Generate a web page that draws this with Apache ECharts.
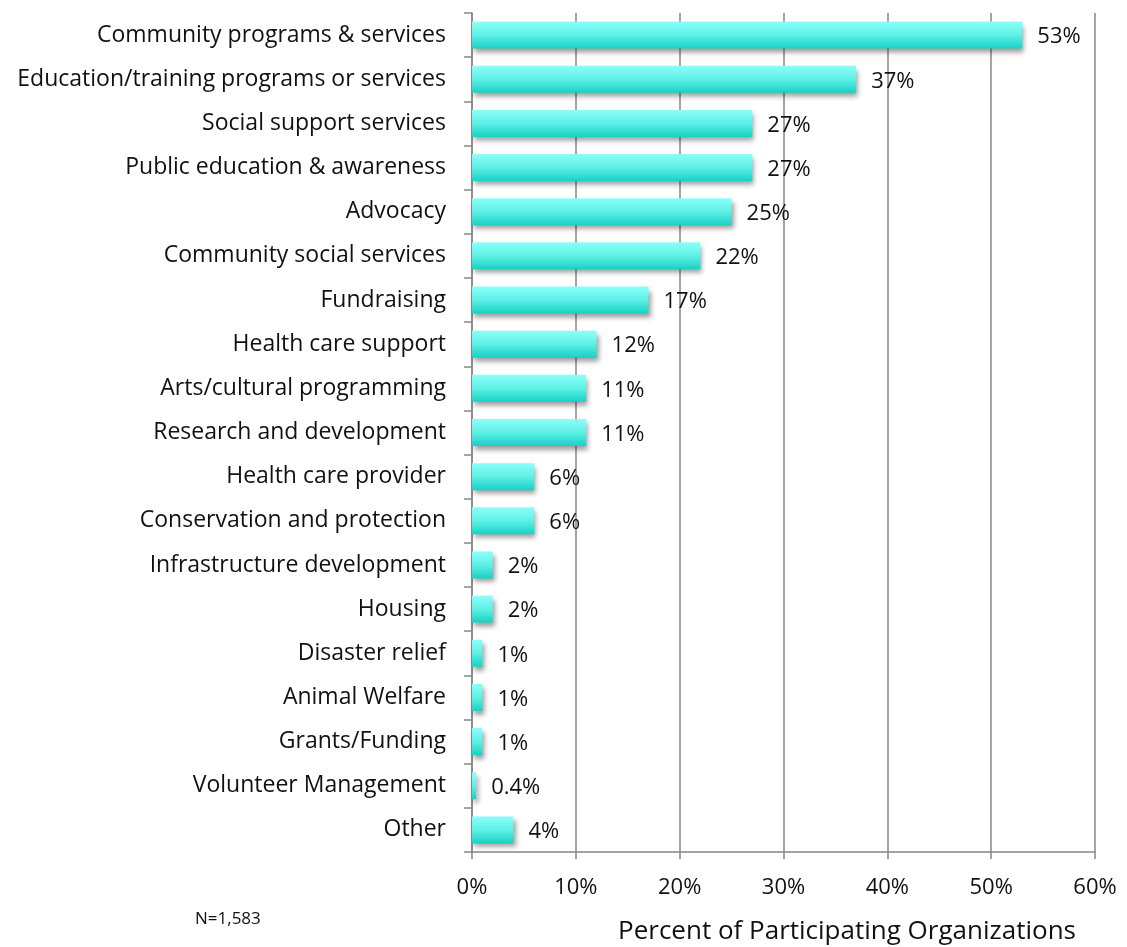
<!DOCTYPE html>
<html>
<head>
<meta charset="utf-8">
<script src="https://cdn.jsdelivr.net/npm/echarts@6/dist/echarts.min.js"></script>
<style>
  html, body { margin: 0; padding: 0; background: #fff; }
  #chart { width: 1127px; height: 947px; }
</style>
</head>
<body>
<div id="chart"></div>
<script>
// Activities of participating organizations, top to bottom
const categories = [
  'Community programs & services',
  'Education/training programs or services',
  'Social support services',
  'Public education & awareness',
  'Advocacy',
  'Community social services',
  'Fundraising',
  'Health care support',
  'Arts/cultural programming',
  'Research and development',
  'Health care provider',
  'Conservation and protection',
  'Infrastructure development',
  'Housing',
  'Disaster relief',
  'Animal Welfare',
  'Grants/Funding',
  'Volunteer Management',
  'Other'
];
// Percent of participating organizations
const percents = [53, 37, 27, 27, 25, 22, 17, 12, 11, 11, 6, 6, 2, 2, 1, 1, 1, 0.4, 4];
const xTicks = [0, 10, 20, 30, 40, 50, 60];
const axisTitle = 'Percent of Participating Organizations';
const sampleNote = 'N=1,583';

const FONT = '"Open Sans", "Noto Sans", sans-serif';
const GRAY = '#878787';

const chart = echarts.init(document.getElementById('chart'), null, { renderer: 'canvas' });
chart.setOption({
  animation: false,
  backgroundColor: '#ffffff',
  grid: { left: 472, right: 32, top: 13, bottom: 95, containLabel: false },
  title: [
    {
      text: axisTitle, left: 842, top: 914, textAlign: 'center',
      textStyle: { fontFamily: FONT, fontSize: 26, fontWeight: 'normal', color: '#111' }
    },
    {
      text: sampleNote, left: 190, top: 906,
      textStyle: { fontFamily: FONT, fontSize: 17, fontWeight: 'normal', color: '#111' }
    }
  ],
  xAxis: {
    type: 'value',
    min: xTicks[0],
    max: xTicks[xTicks.length - 1],
    interval: 10,
    axisLine: { show: true, lineStyle: { color: GRAY, width: 1.5 } },
    axisTick: { show: true, length: 7, lineStyle: { color: GRAY, width: 1.5 } },
    splitLine: { show: true, lineStyle: { color: GRAY, width: 1.5 } },
    axisLabel: {
      margin: 25,
      fontFamily: FONT, fontSize: 22, color: '#111',
      formatter: v => v + '%'
    }
  },
  yAxis: {
    type: 'category',
    data: categories,
    inverse: true,
    axisLine: { show: true, lineStyle: { color: GRAY, width: 1.5 } },
    axisTick: { show: true, length: 8, alignWithLabel: false, lineStyle: { color: GRAY, width: 1.5 } },
    splitLine: { show: false },
    axisLabel: {
      margin: 26,
      fontFamily: FONT, fontSize: 23, color: '#111'
    }
  },
  series: [{
    type: 'bar',
    data: percents,
    barWidth: 27,
    itemStyle: {
      color: new echarts.graphic.LinearGradient(0, 0, 0, 1, [
        { offset: 0, color: '#8cfffa' },
        { offset: 0.5, color: '#5ff0e6' },
        { offset: 1, color: '#16d2c3' }
      ]),
      shadowColor: 'rgba(0,0,0,0.38)',
      shadowBlur: 5,
      shadowOffsetX: 2,
      shadowOffsetY: 4
    },
    label: {
      show: true,
      position: 'right',
      distance: 15,
      offset: [0, 2],
      fontFamily: FONT, fontSize: 22, color: '#111',
      formatter: p => p.value + '%'
    }
  }]
});
</script>
</body>
</html>
